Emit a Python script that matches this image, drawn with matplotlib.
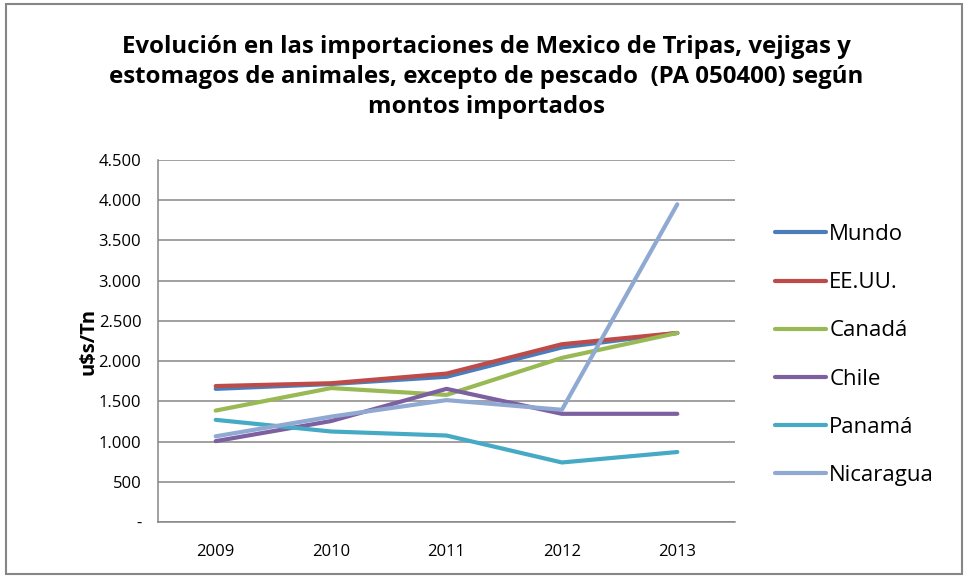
import matplotlib
matplotlib.use("Agg")
import matplotlib.pyplot as plt
from matplotlib.patches import Rectangle

plt.rcParams['font.family'] = ['Open Sans', 'DejaVu Sans']

years = ["2009", "2010", "2011", "2012", "2013"]
mundo = [1655, 1715, 1805, 2170, 2350]
eeuu = [1690, 1725, 1845, 2210, 2350]
canada = [1385, 1665, 1580, 2040, 2350]
chile = [1005, 1255, 1655, 1345, 1345]
panama = [1270, 1125, 1075, 740, 870]
nicaragua = [1065, 1310, 1515, 1395, 3950]

series_names = ["Mundo", "EE.UU.", "Canadá", "Chile", "Panamá", "Nicaragua"]
series_values = [mundo, eeuu, canada, chile, panama, nicaragua]
colors = ["#4A7EBB", "#BE4B48", "#98B954", "#7D60A0", "#46AAC5", "#8FA9D2"]

yticks = [0, 500, 1000, 1500, 2000, 2500, 3000, 3500, 4000, 4500]
ytick_labels = ["-", "500", "1.000", "1.500", "2.000", "2.500", "3.000", "3.500", "4.000", "4.500"]

title = ("Evolución en las importaciones de Mexico de Tripas, vejigas y\n"
         "estomagos de animales, excepto de pescado  (PA 050400) según\n"
         "montos importados")
ylabel = "u$s/Tn"

W, H = 968, 578
fig = plt.figure(figsize=(W / 100, H / 100), dpi=100)
ax = fig.add_axes([158 / W, (H - 522) / H, 577 / W, 362 / H])

x = list(range(len(years)))
lines = []
for name, vals, c in zip(series_names, series_values, colors):
    ln, = ax.plot(x, vals, color=c, lw=3.0, solid_capstyle='round', solid_joinstyle='round', label=name)
    lines.append(ln)

ax.set_xlim(-0.5, len(years) - 0.5)
ax.set_ylim(0, 4500)
ax.set_xticks(x)
ax.set_xticklabels(years, fontsize=12)
ax.set_yticks(yticks)
ax.set_yticklabels(ytick_labels, fontsize=12)
ax.tick_params(axis='x', length=0, pad=16)
ax.tick_params(axis='y', length=0, pad=12)
ax.grid(axis='y', color='#868686', lw=1.1)
ax.set_axisbelow(True)
for s in ['top', 'right']:
    ax.spines[s].set_visible(False)
for s in ['left', 'bottom']:
    ax.spines[s].set_color('#868686')
    ax.spines[s].set_linewidth(1.1)

fig.text(88 / W, 1 - 341 / H, ylabel, rotation=90, ha='center', va='center',
         fontsize=14.5, fontweight='bold')
fig.text(486 / W, 1 - 77 / H, title, ha='center', va='center', fontsize=17.3,
         fontweight='bold', linespacing=1.33)

leg = fig.legend(handles=lines, loc='center left', bbox_to_anchor=(766 / W, 1 - 355 / H),
                 frameon=False, fontsize=16, handlelength=2.3, handletextpad=0.15,
                 labelspacing=1.22, borderaxespad=0)

fig.patches.append(Rectangle((6 / W, 4 / H), 956 / W, 570 / H, transform=fig.transFigure,
                             fill=False, edgecolor='#868686', lw=1.5))

fig.savefig("out.png", dpi=100)
